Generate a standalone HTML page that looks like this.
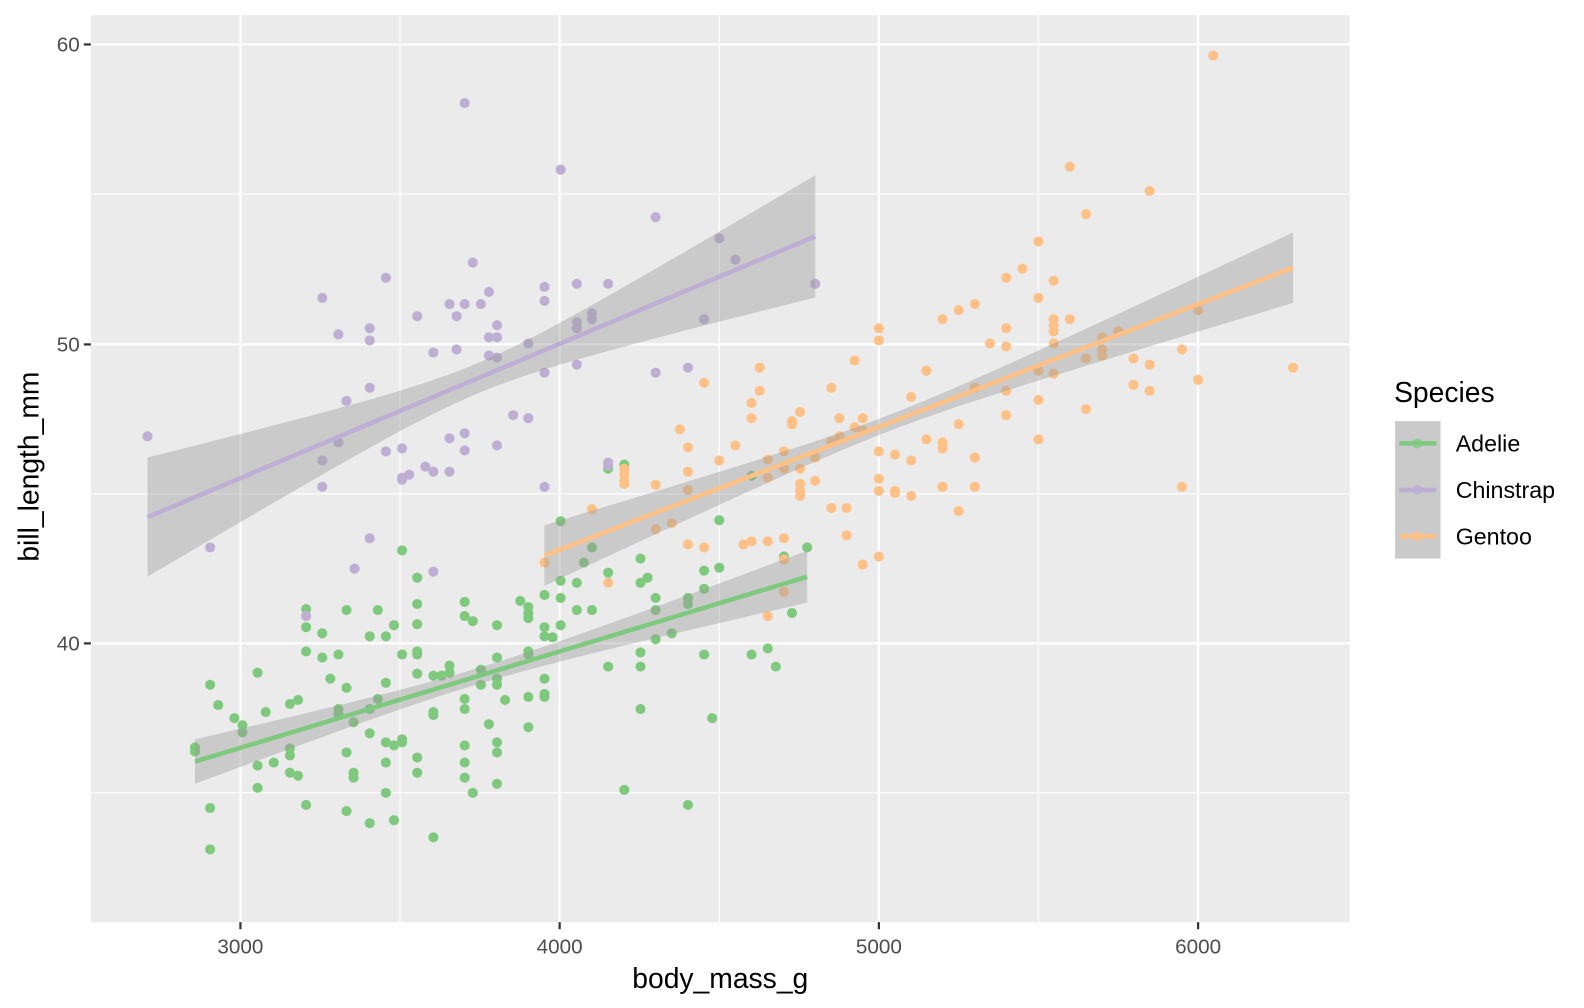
<!DOCTYPE html>
<html><head><meta charset="utf-8"><style>
html,body{margin:0;padding:0;background:#fff;}
svg{display:block;font-family:"Liberation Sans",sans-serif;}
</style></head><body>
<svg id="s" width="1584" height="1008" viewBox="0 0 1568 998" preserveAspectRatio="none" xmlns="http://www.w3.org/2000/svg">
<rect x="0" y="0" width="1568" height="998" fill="#fff"/>
<rect x="90" y="15" width="1246" height="898" fill="#ebebeb"/>
<g stroke="#fff" stroke-width="1.1">
<line x1="396" y1="15" x2="396" y2="913"/><line x1="712" y1="15" x2="712" y2="913"/><line x1="1028" y1="15" x2="1028" y2="913"/>
<line x1="90" y1="192" x2="1336" y2="192"/><line x1="90" y1="489" x2="1336" y2="489"/><line x1="90" y1="785" x2="1336" y2="785"/>
</g>
<g stroke="#fff" stroke-width="2.2">
<line x1="238" y1="15" x2="238" y2="913"/><line x1="554" y1="15" x2="554" y2="913"/><line x1="870" y1="15" x2="870" y2="913"/><line x1="1186" y1="15" x2="1186" y2="913"/>
<line x1="90" y1="44" x2="1336" y2="44"/><line x1="90" y1="341" x2="1336" y2="341"/><line x1="90" y1="637" x2="1336" y2="637"/>
</g>
<g id="pts"></g>
<g id="rib"></g>
<g stroke="#333" stroke-width="2.2">
<line x1="238" y1="913" x2="238" y2="920"/><line x1="554" y1="913" x2="554" y2="920"/><line x1="870" y1="913" x2="870" y2="920"/><line x1="1186" y1="913" x2="1186" y2="920"/>
<line x1="83" y1="44" x2="90" y2="44"/><line x1="83" y1="341" x2="90" y2="341"/><line x1="83" y1="637" x2="90" y2="637"/>
</g>
<g fill="#4d4d4d" font-size="20.5" text-anchor="middle">
<text x="238" y="944">3000</text><text x="554" y="944">4000</text><text x="870" y="944">5000</text><text x="1186" y="944">6000</text>
</g>
<g fill="#4d4d4d" font-size="20.5" text-anchor="end">
<text x="79" y="51">60</text><text x="79" y="348">50</text><text x="79" y="644">40</text>
</g>
<text x="713" y="978" font-size="28" text-anchor="middle" fill="#000">body_mass_g</text>
<text transform="translate(38,462) rotate(-90)" font-size="28" text-anchor="middle" fill="#000">bill_length_mm</text>
<text x="1380" y="398" font-size="28" fill="#000">Species</text>
<rect x="1381" y="417" width="45" height="136" fill="#ebebeb"/>
<rect x="1381" y="417" width="45" height="136" fill="#999" fill-opacity="0.4"/>
<g stroke-width="4.5">
<line x1="1385" y1="439" x2="1422" y2="439" stroke="#7fc97f"/>
<line x1="1385" y1="485" x2="1422" y2="485" stroke="#beaed4"/>
<line x1="1385" y1="531" x2="1422" y2="531" stroke="#fdc086"/>
</g>
<circle cx="1403" cy="439" r="5" fill="#7fc97f" fill-opacity="0.7"/>
<circle cx="1403" cy="485" r="5" fill="#beaed4" fill-opacity="0.7"/>
<circle cx="1403" cy="531" r="5" fill="#fdc086" fill-opacity="0.7"/>
<g font-size="23" fill="#000">
<text x="1441" y="447">Adelie</text><text x="1441" y="493">Chinstrap</text><text x="1441" y="539">Gentoo</text>
</g>
</svg>
<script>
var NS="http://www.w3.org/2000/svg";
var ch=[[146,432],[208,542],[319,295],[319,456],[319,482],[335,331],[335,438],[343,397],[351,563],[366,325],[366,337],[366,384],[366,533],[382,275],[382,447],[398,444],[398,473],[398,475],[405,470],[413,313],[421,462],[429,349],[429,467],[429,566],[445,301],[445,434],[445,467],[452,313],[452,346],[460,102],[460,301],[460,429],[460,446],[468,260],[476,301],[484,289],[484,334],[484,352],[492,322],[492,334],[492,354],[492,441],[508,411],[523,340],[523,414],[539,284],[539,298],[539,369],[539,482],[555,168],[571,281],[571,319],[571,325],[571,361],[586,310],[586,316],[602,281],[602,458],[602,461],[649,215],[649,369],[681,364],[697,316],[712,236],[728,257],[807,281],[303,610]];
var ad=[[193,740],[193,744],[208,678],[208,800],[208,841],[216,698],[232,711],[240,718],[240,725],[255,666],[255,758],[255,780],[263,705],[271,755],[287,741],[287,748],[287,765],[287,697],[295,693],[295,768],[303,603],[303,621],[303,645],[303,797],[319,627],[319,651],[327,672],[335,648],[335,702],[335,707],[343,604],[343,681],[343,745],[343,803],[350,715],[350,765],[350,770],[366,630],[366,702],[366,726],[366,815],[374,604],[374,692],[382,630],[382,676],[382,735],[382,755],[382,785],[390,619],[390,738],[390,812],[398,545],[398,648],[398,732],[398,735],[413,572],[413,598],[413,618],[413,645],[413,648],[413,667],[413,750],[413,765],[429,669],[429,705],[429,708],[429,829],[437,669],[445,659],[445,666],[460,596],[460,610],[460,692],[460,702],[460,738],[460,755],[460,770],[468,615],[468,785],[476,663],[476,678],[484,717],[492,619],[492,651],[492,672],[492,678],[492,735],[492,745],[492,776],[500,693],[515,595],[523,601],[523,607],[523,612],[523,645],[523,648],[523,690],[523,720],[539,589],[539,630],[539,672],[539,687],[539,690],[539,621],[547,631],[555,516],[555,575],[555,592],[555,619],[571,577],[571,604],[578,557],[586,542],[586,604],[602,464],[618,460],[602,567],[602,660],[618,782],[634,646],[634,660],[634,702],[634,553],[634,577],[641,572],[649,592],[649,604],[649,633],[665,627],[681,592],[681,598],[697,583],[697,648],[705,711],[712,562],[712,515],[744,648],[744,471],[760,642],[768,660],[776,551],[776,553],[784,607],[799,542],[681,797],[697,565]];
var ge=[[539,557],[586,504],[602,577],[618,464],[618,470],[618,476],[618,479],[649,524],[649,480],[665,518],[673,425],[681,443],[681,467],[681,485],[681,539],[697,542],[697,379],[712,456],[728,441],[736,539],[744,536],[744,399],[744,414],[752,364],[752,387],[760,536],[760,610],[760,455],[760,473],[776,447],[776,464],[776,533],[776,554],[776,586],[784,417],[784,420],[792,408],[792,464],[792,479],[792,491],[792,486],[807,476],[807,453],[823,384],[823,437],[823,503],[831,432],[831,414],[838,503],[838,530],[846,357],[846,423],[854,414],[854,426],[854,559],[870,325],[870,337],[870,447],[870,474],[870,486],[870,551],[886,450],[886,486],[886,488],[902,393],[902,456],[902,491],[917,367],[917,435],[933,316],[933,438],[933,444],[933,482],[949,307],[949,420],[949,506],[965,301],[965,384],[965,453],[965,482],[980,340],[996,275],[996,343],[996,325],[996,387],[996,411],[1012,266],[1028,239],[1028,295],[1028,367],[1028,396],[1028,435],[1043,278],[1043,316],[1043,322],[1043,328],[1043,340],[1043,370],[1059,165],[1059,316],[1075,212],[1075,355],[1075,405],[1091,334],[1091,346],[1091,352],[1107,328],[1122,355],[1122,381],[1138,189],[1138,361],[1138,387],[1170,346],[1170,482],[1186,307],[1186,376],[1201,55],[1280,364]];
var pg=document.getElementById("pts");
function dots(a,c){a.forEach(function(p){var e=document.createElementNS(NS,"circle");e.setAttribute("cx",p[0]);e.setAttribute("cy",p[1]);e.setAttribute("r",5);e.setAttribute("fill",c);pg.appendChild(e);});}
dots(ad,"#7fc97f");dots(ch,"#beaed4");dots(ge,"#fdc086");
var rg=document.getElementById("rib");
function rib(x0,y0,x1,y1,xc,w0,b,c){
 var up=[],dn=[],n=40;
 for(var i=0;i<=n;i++){var x=x0+(x1-x0)*i/n,y=y0+(y1-y0)*i/n,w=Math.sqrt(w0*w0+b*(x-xc)*(x-xc));up.push(x.toFixed(1)+","+(y-w).toFixed(1));dn.unshift(x.toFixed(1)+","+(y+w).toFixed(1));}
 var p=document.createElementNS(NS,"polygon");p.setAttribute("points",up.concat(dn).join(" "));p.setAttribute("fill","#999");p.setAttribute("fill-opacity","0.4");rg.appendChild(p);
 var l=document.createElementNS(NS,"line");l.setAttribute("x1",x0);l.setAttribute("y1",y0);l.setAttribute("x2",x1);l.setAttribute("y2",y1);l.setAttribute("stroke",c);l.setAttribute("stroke-width",4.5);rg.appendChild(l);
}
rib(146,512,807,234,472,15,0.0306,"#beaed4");
rib(193,754,799,571,470,8,0.0055,"#7fc97f");
rib(539,550,1280,265,880,8,0.0072,"#fdc086");
</script>
</body></html>
